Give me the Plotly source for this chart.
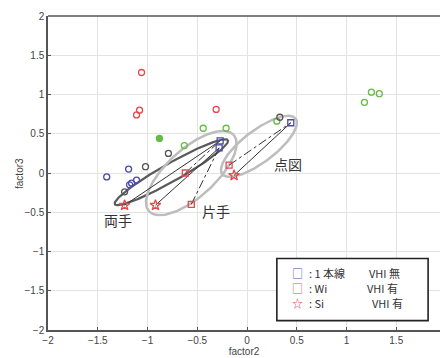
import numpy as np
import plotly.graph_objects as go

# ---- data (factor2, factor3) ----
red_x = [-1.06, -1.11, -1.08, -0.31]
red_y = [1.28, 0.74, 0.80, 0.81]
green_x = [-0.44, -0.21, -0.63, 1.18, 1.25, 1.33, 0.30]
green_y = [0.57, 0.57, 0.35, 0.90, 1.03, 1.01, 0.66]
green_fill_x = [-0.88]
green_fill_y = [0.44]
black_x = [-0.79, -1.02, -1.23, 0.33]
black_y = [0.25, 0.08, -0.24, 0.71]
blue_x = [-1.41, -1.19, -1.11, -1.16, -1.18]
blue_y = [-0.05, 0.05, -0.09, -0.13, -0.15]

groups = ["両手", "片手", "点図"]
line1_x = [-0.27, -0.28, 0.44]   # 1本線 (blue square)
line1_y = [0.41, 0.32, 0.64]
wi_x = [-0.62, -0.56, -0.18]     # Wi (red square)
wi_y = [0.00, -0.40, 0.10]
si_x = [-1.23, -0.92, -0.13]     # Si (red star)
si_y = [-0.41, -0.41, -0.03]

label_x = [-1.30, -0.31, 0.41]
label_y = [-0.60, -0.48, 0.12]

# ellipse: center (data), semi-axes (px), angle (deg)
ell_cx = [-0.76, -0.56, 0.12]
ell_cy = [0.01, 0.00, 0.34]
ell_a = [65, 57, 46]
ell_b = [9, 24, 16]
ell_ang = [29.5, 42, 37]
ell_col = ["#5a5a5a", "#bdbdbd", "#bdbdbd"]
ell_w = [2.2, 2.5, 2.5]

# legend
leg_sym = ["□", "□", "☆"]
leg_name = [": 1 本線", ": Wi", ": Si"]
leg_vhi = ["VHI 無", "VHI 有", "VHI 有"]

# ---- geometry ----
W, H = 440, 358
ML, MR, MT, MB = 48, 0, 16, 28
PX = 99.5   # px per x unit
PY = 78.5   # px per y unit
x_max = -2 + (W - ML - MR) / PX

RED = "#e8474c"
BLUE = "#4b4bab"
GREEN = "#66bb44"
BLK = "#555555"

fig = go.Figure()

# ellipses
for cx, cy, a, b, ang, col, w in zip(ell_cx, ell_cy, ell_a, ell_b, ell_ang, ell_col, ell_w):
    t = np.linspace(0, 2 * np.pi, 200)
    th = np.deg2rad(ang)
    ux = a * np.cos(t)
    uy = b * np.sin(t)
    dx = ux * np.cos(th) - uy * np.sin(th)
    dy = ux * np.sin(th) + uy * np.cos(th)
    fig.add_trace(go.Scatter(x=cx + dx / PX, y=cy + dy / PY, mode="lines",
                             line=dict(color=col, width=w), hoverinfo="skip"))

# connecting lines
for i in range(len(groups)):
    fig.add_trace(go.Scatter(x=[si_x[i], line1_x[i]], y=[si_y[i], line1_y[i]], mode="lines",
                             line=dict(color="#333333", width=1)))
    fig.add_trace(go.Scatter(x=[wi_x[i], line1_x[i]], y=[wi_y[i], line1_y[i]], mode="lines",
                             line=dict(color="#333333", width=1, dash="dashdot")))

def pts(x, y, color, symbol, size=6, fill=False):
    fig.add_trace(go.Scatter(
        x=x, y=y, mode="markers",
        marker=dict(symbol=symbol, size=size,
                    color=color if fill else "rgba(0,0,0,0)",
                    line=dict(color=color, width=1.3))))

pts(red_x, red_y, RED, "circle")
pts(green_x, green_y, GREEN, "circle")
pts(green_fill_x, green_fill_y, GREEN, "circle", fill=True)
pts(black_x, black_y, BLK, "circle")
pts(blue_x, blue_y, BLUE, "circle")
pts(line1_x, line1_y, BLUE, "square", size=6)
pts(wi_x, wi_y, RED, "square", size=6)
pts(si_x, si_y, RED, "star", size=8)

# group labels
for lx, ly, g in zip(label_x, label_y, groups):
    fig.add_annotation(x=lx, y=ly, text=g, showarrow=False,
                       font=dict(family="Noto Sans CJK JP", size=14, color="#333333"))

# legend box (data coords)
fig.add_shape(type="rect", x0=0.30, x1=1.82, y0=-1.88, y1=-1.09,
              line=dict(color="#222222", width=1.6), fillcolor="white", layer="above")
leg_col = [BLUE, RED, RED]
leg_vx = [1.22, 1.20, 1.25]
leg_y = [-1.27, -1.46, -1.65]
lf = dict(family="Noto Sans CJK JP", size=11, color="#333333")
for s, c, n, v, vx, yy in zip(leg_sym, leg_col, leg_name, leg_vhi, leg_vx, leg_y):
    fig.add_annotation(x=0.51, y=yy, xanchor="center", showarrow=False, text=s, borderpad=0,
                       font=dict(family="Noto Sans CJK JP", size=11, color=c))
    fig.add_annotation(x=0.61, y=yy, xanchor="left", showarrow=False, text=n, borderpad=0,
                       font=lf)
    fig.add_annotation(x=vx, y=yy, xanchor="left", showarrow=False, text=v, borderpad=0,
                       font=lf)

# top frame line
fig.add_shape(type="line", xref="paper", yref="paper", x0=0, x1=1, y0=1, y1=1,
              line=dict(color="#555555", width=1.5))

# y axis title
fig.add_annotation(xref="paper", yref="paper", x=-0.074, y=0.5, text="factor3",
                   textangle=-90, showarrow=False, xanchor="center", yanchor="middle",
                   font=dict(family="Liberation Sans", size=10, color="#444444"))

axis_common = dict(showgrid=True, gridcolor="#e3e3e3", gridwidth=1,
                   zeroline=False, showline=True, linecolor="#555555", linewidth=1.5,
                   ticks="inside", ticklen=3, tickcolor="#555555",
                   tickfont=dict(family="Liberation Sans", size=10, color="#444444"),
                   dtick=0.5)
fig.update_layout(
    width=W, height=H, margin=dict(l=ML, r=MR, t=MT, b=MB, autoexpand=False),
    plot_bgcolor="white", paper_bgcolor="white", showlegend=False,
    xaxis=dict(range=[-2, x_max], tick0=-2,
               title=dict(text="factor2", standoff=2,
                          font=dict(family="Liberation Sans", size=10, color="#444444")),
               **axis_common),
    yaxis=dict(range=[-2, 2], tick0=-2, **axis_common),
)

fig.write_html("out.html")
